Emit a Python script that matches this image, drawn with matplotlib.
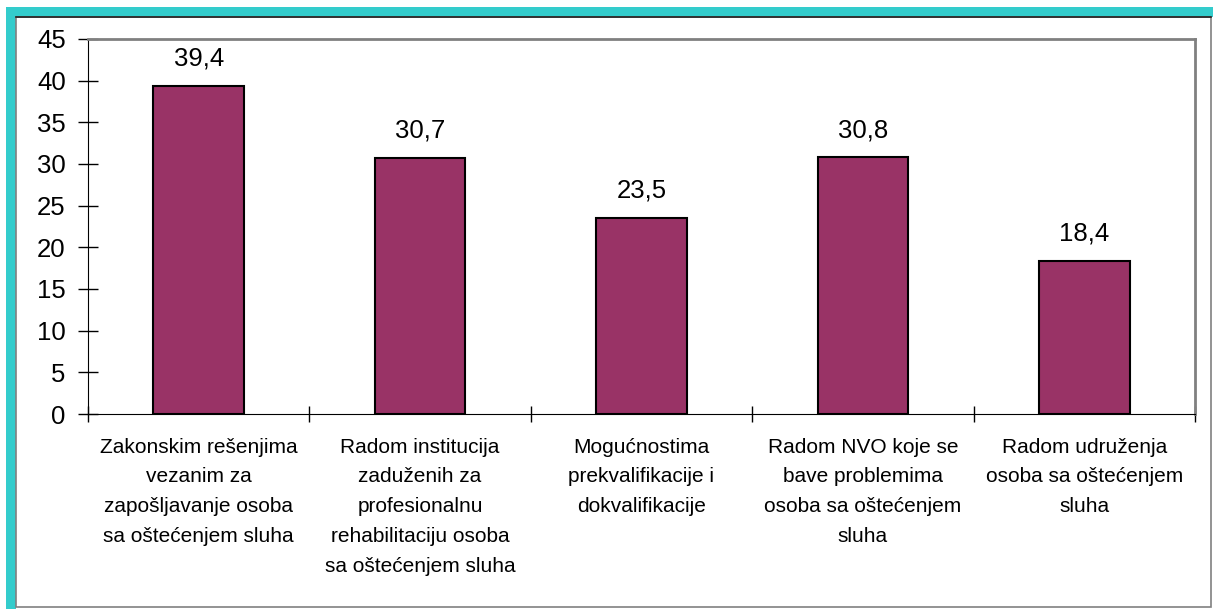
import matplotlib.pyplot as plt
from matplotlib.patches import Rectangle

categories = [
    "Zakonskim rešenjima\nvezanim za\nzapošljavanje osoba\nsa oštećenjem sluha",
    "Radom institucija\nzaduženih za\nprofesionalnu\nrehabilitaciju osoba\nsa oštećenjem sluha",
    "Mogućnostima\nprekvalifikacije i\ndokvalifikacije",
    "Radom NVO koje se\nbave problemima\nosoba sa oštećenjem\nsluha",
    "Radom udruženja\nosoba sa oštećenjem\nsluha",
]
values = [39.4, 30.7, 23.5, 30.8, 18.4]
labels = ["39,4", "30,7", "23,5", "30,8", "18,4"]
yticks = [0, 5, 10, 15, 20, 25, 30, 35, 40, 45]

plt.rcParams['font.family'] = ['Liberation Sans', 'DejaVu Sans']

W, H = 1213, 609
fig = plt.figure(figsize=(W / 100, H / 100), dpi=100)

# teal frame and white panel (pixel coords -> figure fraction)
def box(x0, y0, x1, y1, **kw):
    r = Rectangle((x0 / W, 1 - y1 / H), (x1 - x0) / W, (y1 - y0) / H,
                  transform=fig.transFigure, zorder=-5, **kw)
    fig.patches.append(r)

box(6, 7, W, 17, facecolor='#33CCCC', edgecolor='none')
box(6, 7, 16, H, facecolor='#33CCCC', edgecolor='none')
box(16, 17, 1211, 607, facecolor='white', edgecolor='#808080', lw=1.2)
fig.add_artist(plt.Line2D([16 / W, 1211 / W], [1 - 17 / H, 1 - 17 / H],
                          transform=fig.transFigure, color='#222222', lw=1.2, zorder=-4))

ax = fig.add_axes([88 / W, 1 - 414 / H, (1195 - 88) / W, (414 - 39) / H])
ax.set_zorder(2)
x = list(range(len(values)))
ax.bar(x, values, width=0.41, color='#993366', edgecolor='black', linewidth=1.5, zorder=3)

for xi, v, t in zip(x, values, labels):
    ax.annotate(t, (xi, v), xytext=(0, 11), textcoords='offset points',
                ha='center', va='bottom', fontsize=18.5)

ax.set_xlim(-0.5, len(values) - 0.5)
ax.set_ylim(0, 45)
ax.set_yticks(yticks)
ax.set_yticklabels([str(v) for v in yticks], fontsize=18.5)
ax.tick_params(axis='y', direction='inout', length=14, width=1, pad=9)

ax.set_xticks([i - 0.5 for i in range(len(values) + 1)])
ax.set_xticklabels([])
ax.set_xticks(x, minor=True)
ax.set_xticklabels(categories, minor=True, fontsize=15, linespacing=1.72)
ax.tick_params(axis='x', which='major', direction='inout', length=12, width=1)
ax.tick_params(axis='x', which='minor', length=0, pad=17)
for lab in ax.get_xticklabels(minor=True):
    lab.set_verticalalignment('top')

ax.spines['left'].set_color('black')
ax.spines['bottom'].set_color('black')
ax.spines['top'].set_color('#808080')
ax.spines['right'].set_color('#808080')
ax.spines['top'].set_linewidth(2)
ax.spines['right'].set_linewidth(2)

fig.savefig('out.png', dpi=100)
